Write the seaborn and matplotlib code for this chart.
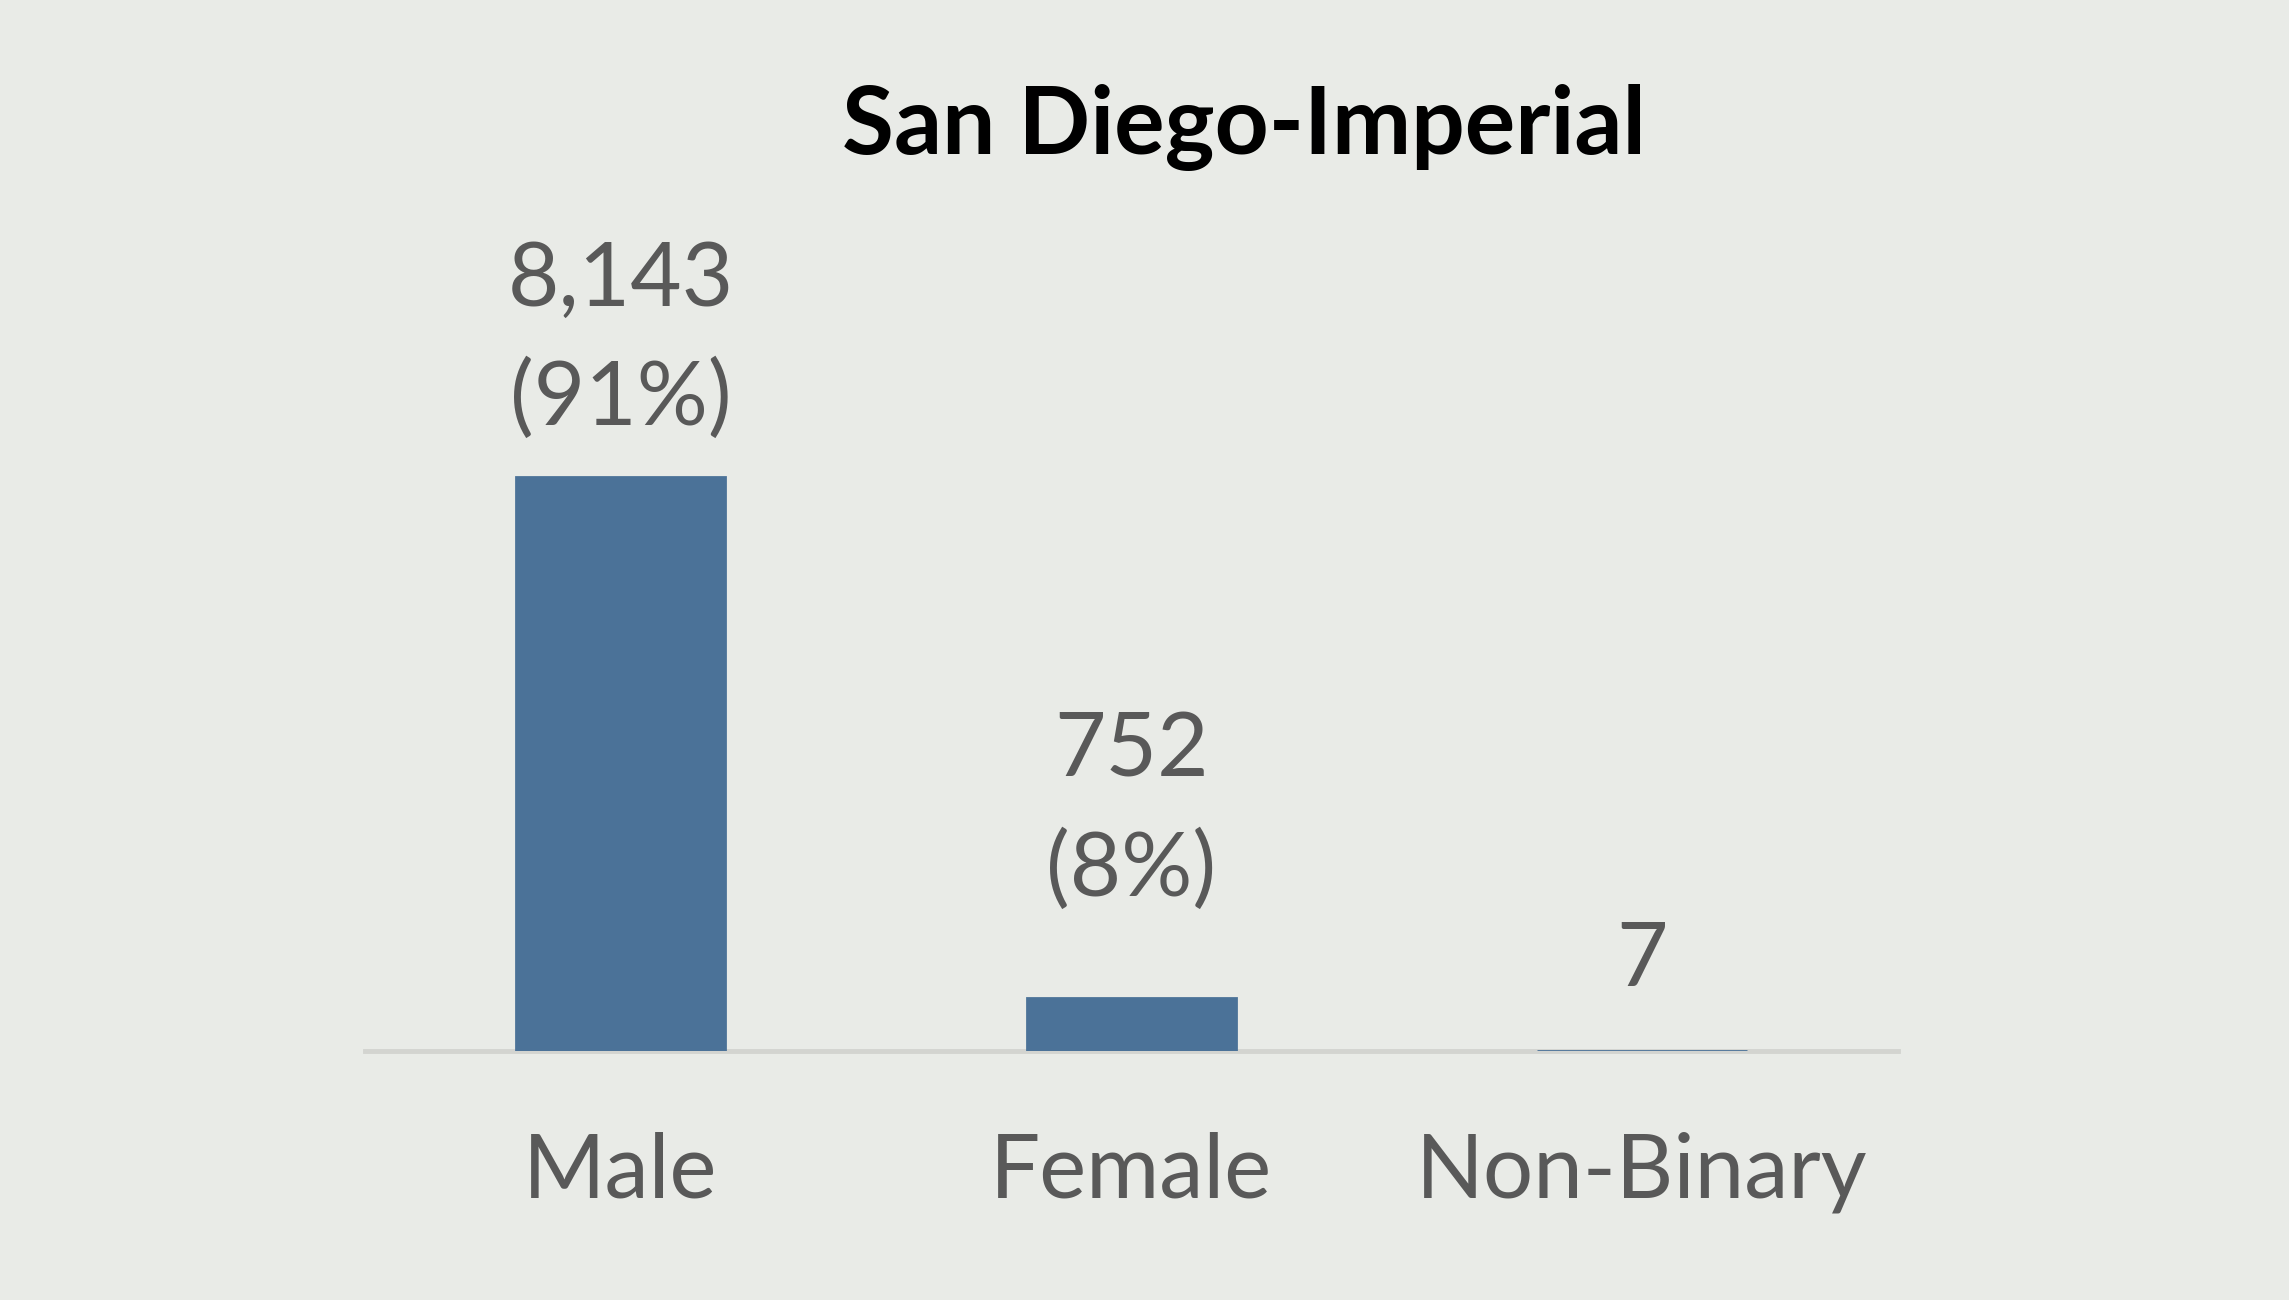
import pandas as pd
import matplotlib.pyplot as plt
import seaborn as sns

# Data
categories = ["Male", "Female", "Non-Binary"]
counts = [8143, 752, 7]
value_labels = ["8,143\n(91%)", "752\n(8%)", "7"]
title = "San Diego-Imperial"

df = pd.DataFrame({"gender": categories, "count": counts})

# ---- Style ----
sns.set_style("white")
plt.rcParams["font.family"] = ["Lato", "DejaVu Sans"]

bg = "#E9EBE7"
bar_color = "#4B7298"
text_color = "#595959"

fig = plt.figure(figsize=(22.89, 13), dpi=100, facecolor=bg)
ax = fig.add_axes([0.1595, 0.1915, 0.6695, 0.655])
ax.set_facecolor(bg)

sns.barplot(data=df, x="gender", y="count", color=bar_color, width=0.41,
            saturation=1, edgecolor=bar_color, linewidth=2, ax=ax, zorder=3)

ax.set_xlim(-0.5, 2.5)
# 574 px for the Male bar, axes height ~851 px
ax.set_ylim(0, 8143 * 851 / 574)

# Value labels above bars
pads = [26, 62, 35]
for i, (v, lab) in enumerate(zip(counts, value_labels)):
    ax.annotate(lab, xy=(i, v), xytext=(0, pads[i]), textcoords="offset points",
                ha="center", va="bottom", fontsize=64, color=text_color,
                linespacing=1.55)

ax.set_xlabel("")
ax.set_ylabel("")
ax.set_yticks([])
ax.tick_params(axis="x", length=0, pad=58, labelsize=64, labelcolor=text_color)
sns.despine(ax=ax, left=True, top=True, right=True)
ax.spines["bottom"].set_color("#D3D4D0")
ax.spines["bottom"].set_linewidth(3.5)
ax.spines["bottom"].set_zorder(1)

fig.text(0.5435, 0.902, title, ha="center", va="center", fontsize=68,
         fontweight="bold", color="black")

fig.savefig("out.png", dpi=100, facecolor=bg)
